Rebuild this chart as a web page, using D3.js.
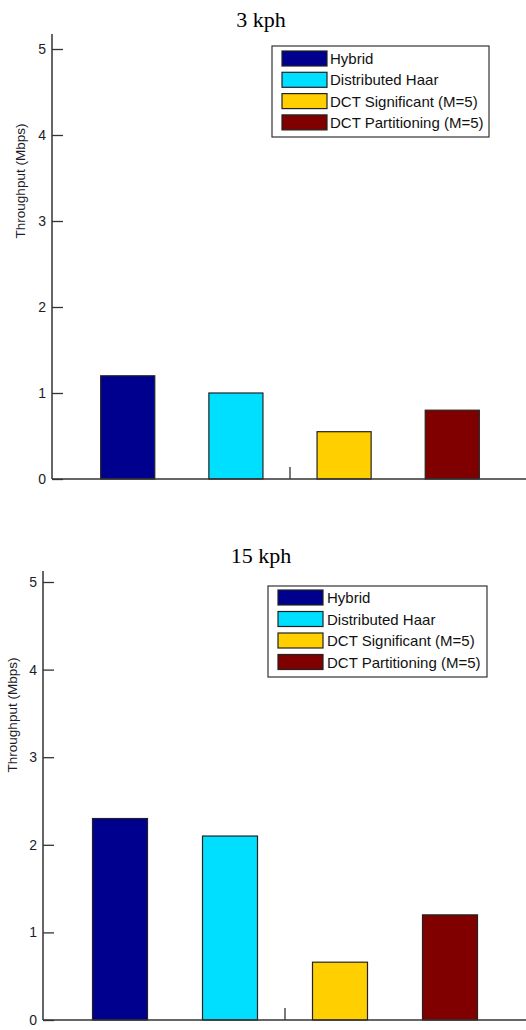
<!DOCTYPE html>
<html>
<head>
<meta charset="utf-8">
<script src="https://cdn.jsdelivr.net/npm/d3@7"></script>
<style>
  html, body { margin: 0; padding: 0; background: #fff; }
  svg { display: block; }
  .tick-label { font-family: Arial, "Liberation Sans", sans-serif; font-size: 14px; fill: #1c1c2c; }
  .axis-title { font-family: Arial, "Liberation Sans", sans-serif; font-size: 13.5px; fill: #1c1c2c; }
  .legend-text { font-family: Arial, "Liberation Sans", sans-serif; font-size: 15px; fill: #111; }
  .chart-title { font-family: "Liberation Serif", "Times New Roman", serif; font-size: 22px; fill: #000; }
</style>
</head>
<body>
<div id="chart"></div>
<script>
var categories = ['Hybrid', 'Distributed Haar', 'DCT Significant (M=5)', 'DCT Partitioning (M=5)'];
var colors = ['#00008f', '#00dfff', '#ffcf00', '#800000'];
var values3kph = [1.2, 1.0, 0.55, 0.8];
var values15kph = [2.3, 2.1, 0.66, 1.2];
var yTicks = [0, 1, 2, 3, 4, 5];

var width = 526, height = 1030;

var svg = d3.select('#chart').append('svg')
  .attr('width', width)
  .attr('height', height);

var panels = [
  { title: '3 kph', values: values3kph, titleY: 27, axisX: 52, axisTop: 34, y0: 479, y5: 49, right: 528,
    labelX: 21, labelY: 181, legend: { x: 272, y: 46, w: 217, h: 91, swX: 282, row0: 51, rowH: 21.3, textX: 330 } },
  { title: '15 kph', values: values15kph, titleY: 563, axisX: 43, axisTop: 571, y0: 1020, y5: 582, right: 527,
    labelX: 13, labelY: 715, legend: { x: 268, y: 586, w: 219, h: 91, swX: 278, row0: 590, rowH: 21.5, textX: 327 } }
];

panels.forEach(function (p) {
  var g = svg.append('g');

  var x = d3.scaleBand()
    .domain(categories)
    .range([p.axisX, p.right])
    .paddingInner(0.5)
    .paddingOuter(0.45);

  var y = d3.scaleLinear().domain([0, 5]).range([p.y0, p.y5]);

  g.append('text')
    .attr('class', 'chart-title')
    .attr('x', 261)
    .attr('y', p.titleY)
    .attr('text-anchor', 'middle')
    .text(p.title);

  // bars
  g.selectAll('rect.bar')
    .data(p.values)
    .enter()
    .append('rect')
    .attr('class', 'bar')
    .attr('x', function (d, i) { return x(categories[i]); })
    .attr('y', function (d) { return y(d); })
    .attr('width', x.bandwidth())
    .attr('height', function (d) { return y(0) - y(d); })
    .attr('fill', function (d, i) { return colors[i]; })
    .attr('stroke', '#222')
    .attr('stroke-width', 1.2);

  // axes lines
  g.append('line')
    .attr('x1', p.axisX).attr('x2', p.axisX)
    .attr('y1', p.axisTop).attr('y2', p.y0)
    .attr('stroke', '#333').attr('stroke-width', 1.5);
  g.append('line')
    .attr('x1', p.axisX).attr('x2', p.right)
    .attr('y1', p.y0).attr('y2', p.y0)
    .attr('stroke', '#333').attr('stroke-width', 1.5);

  // y ticks drawn inward
  var yAxis = d3.axisRight(y).tickValues(yTicks).tickSize(11).tickFormat('');
  var ya = g.append('g').attr('transform', 'translate(' + p.axisX + ',0)').call(yAxis);
  ya.select('.domain').remove();
  ya.selectAll('.tick line').attr('stroke', '#333').attr('stroke-width', 1.3);

  g.selectAll('text.tick-label')
    .data(yTicks)
    .enter()
    .append('text')
    .attr('class', 'tick-label')
    .attr('x', p.axisX - 6)
    .attr('y', function (d) { return y(d) + 5; })
    .attr('text-anchor', 'end')
    .text(function (d) { return d; });

  // single x tick at the centre of the group
  var xMid = (p.axisX + p.right) / 2;
  g.append('line')
    .attr('x1', xMid).attr('x2', xMid)
    .attr('y1', p.y0).attr('y2', p.y0 - 12)
    .attr('stroke', '#333').attr('stroke-width', 1.3);

  g.append('text')
    .attr('class', 'axis-title')
    .attr('transform', 'translate(' + (p.labelX + 4) + ',' + p.labelY + ') rotate(-90)')
    .attr('text-anchor', 'middle')
    .text('Throughput (Mbps)');

  // legend
  var L = p.legend;
  g.append('rect')
    .attr('x', L.x).attr('y', L.y)
    .attr('width', L.w).attr('height', L.h)
    .attr('fill', '#fff')
    .attr('stroke', '#333').attr('stroke-width', 1.2);

  var items = g.selectAll('g.legend-item')
    .data(categories)
    .enter()
    .append('g')
    .attr('class', 'legend-item')
    .attr('transform', function (d, i) { return 'translate(0,' + (L.row0 + i * L.rowH) + ')'; });

  items.append('rect')
    .attr('x', L.swX).attr('y', 0)
    .attr('width', 45).attr('height', 15)
    .attr('fill', function (d, i) { return colors[i]; })
    .attr('stroke', '#222').attr('stroke-width', 1.2);

  items.append('text')
    .attr('class', 'legend-text')
    .attr('x', L.textX)
    .attr('y', 13)
    .text(function (d) { return d; });
});
</script>
</body>
</html>
